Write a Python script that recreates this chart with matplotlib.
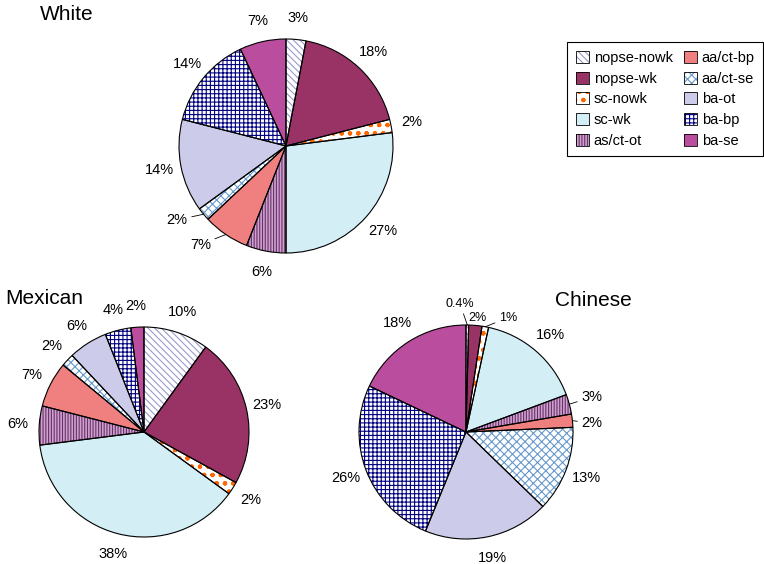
import matplotlib
matplotlib.use('Agg')
import matplotlib.pyplot as plt
from matplotlib.patches import Patch
from matplotlib.legend_handler import HandlerTuple
import numpy as np

plt.rcParams['font.family'] = ['Liberation Sans', 'DejaVu Sans']
plt.rcParams['hatch.linewidth'] = 0.8

# categorias (orden horario desde las 12)
categorias = ['nopse-nowk', 'nopse-wk', 'sc-nowk', 'sc-wk', 'as/ct-ot',
              'aa/ct-bp', 'aa/ct-se', 'ba-ot', 'ba-bp', 'ba-se']

white = [3, 18, 2, 27, 6, 7, 2, 14, 14, 7]
mexican = [10, 23, 2, 38, 6, 7, 2, 6, 4, 2]
chinese = [0.4, 2, 1, 16, 3, 2, 13, 19, 26, 18]

white_labels = ['3%', '18%', '2%', '27%', '6%', '7%', '2%', '14%', '14%', '7%']
mexican_labels = ['10%', '23%', '2%', '38%', '6%', '7%', '2%', '6%', '4%', '2%']
chinese_labels = ['0.4%', '2%', '1%', '16%', '3%', '2%', '13%', '19%', '26%', '18%']

# estilos
caras = ['white', '#993366', 'white', '#d4eef6', '#cfa0cf',
         '#f08080', 'white', '#ccccea', 'white', '#bb4d9e']
tramas = ['\\\\\\\\\\', None, 'oo..', None, '||||||', None, 'xxxx', None, '++++', None]
color_trama = ['#9999cc', None, '#ff6600', None, '#663366',
               None, '#6699cc', None, '#000080', None]

fig = plt.figure(figsize=(7.64, 5.64), dpi=100)
ax = fig.add_axes([0, 0, 1, 1])


def draw_pie(valores, etiquetas, cx, cy, r, ajustes):
    w1, _ = ax.pie(valores, colors=caras, startangle=90, counterclock=False,
                   center=(cx, cy), radius=r, wedgeprops=dict(linewidth=0))
    for w, h, hc in zip(w1, tramas, color_trama):
        if h:
            w.set_hatch(h)
            w.set_edgecolor(hc)
    w2, _ = ax.pie(valores, startangle=90, counterclock=False,
                   center=(cx, cy), radius=r,
                   wedgeprops=dict(fill=False, linewidth=0.8, edgecolor='black'))
    for i, w in enumerate(w2):
        mid = np.deg2rad((w.theta1 + w.theta2) / 2)
        ang, dist, leader, fs = mid, 1.2, False, 10.5
        if i in ajustes:
            a, dist, leader, fs = ajustes[i]
            if a is not None:
                ang = np.deg2rad(a)
        tx = cx + dist * r * np.cos(ang)
        ty = cy + dist * r * np.sin(ang)
        if leader:
            ex = cx + r * np.cos(mid)
            ey = cy + r * np.sin(mid)
            ax.annotate(etiquetas[i], xy=(ex, ey), xytext=(tx, ty),
                        ha='center', va='center', fontsize=fs,
                        arrowprops=dict(arrowstyle='-', lw=0.6, color='black',
                                        shrinkA=1, shrinkB=0))
        else:
            ax.text(tx, ty, etiquetas[i], ha='center', va='center', fontsize=fs)


draw_pie(white, white_labels, 286, 418, 107,
         {5: (-131, 1.22, True, 10.5), 6: (-145.8, 1.23, True, 10.5)})
draw_pie(mexican, mexican_labels, 144, 132, 105, {})
draw_pie(chinese, chinese_labels, 466, 132, 107,
         {0: (92.7, 1.2, True, 9), 1: (84.5, 1.07, False, 9),
          2: (69.8, 1.14, True, 9), 4: (15.5, 1.22, True, 10.5),
          5: (4, 1.18, True, 10.5)})

ax.text(40, 550, 'White', fontsize=15, ha='left', va='center')
ax.text(5, 266, 'Mexican', fontsize=15, ha='left', va='center')
ax.text(555, 264, 'Chinese', fontsize=15, ha='left', va='center')

handles = []
for c, h, hc in zip(caras, tramas, color_trama):
    relleno = Patch(facecolor=c, hatch=h, edgecolor=hc if hc else c, linewidth=0)
    borde = Patch(fill=False, edgecolor='black', linewidth=0.6)
    handles.append((relleno, borde))

leg = ax.legend(handles, categorias, ncol=2, loc='upper left',
                bbox_to_anchor=(0.733, 0.938), fontsize=10.5,
                handler_map={tuple: HandlerTuple(ndivide=1, pad=0)},
                handlelength=0.9, handleheight=0.9, handletextpad=0.3,
                labelspacing=0.45, columnspacing=0.8, borderpad=0.6,
                fancybox=False, framealpha=1, edgecolor='black')
leg.get_frame().set_linewidth(0.8)

ax.set_xlim(0, 764)
ax.set_ylim(0, 564)
ax.set_aspect('equal')
ax.axis('off')

plt.savefig('out.png', dpi=100)
